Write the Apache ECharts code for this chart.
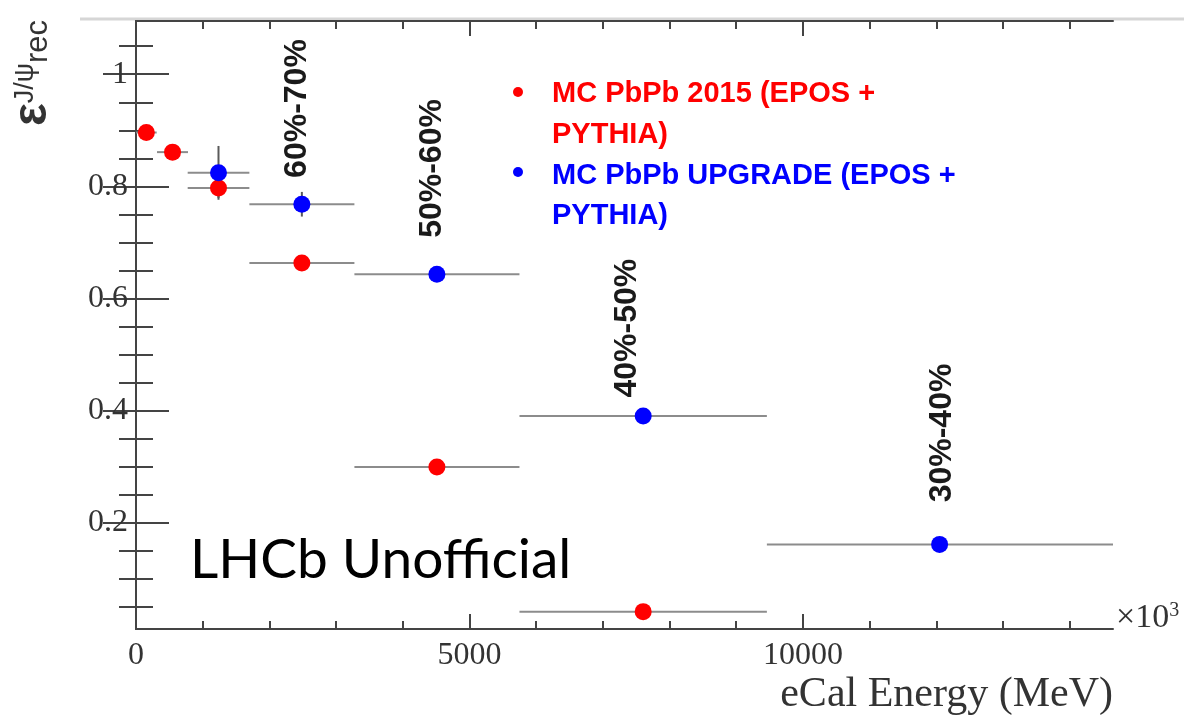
<!DOCTYPE html>
<html>
<head>
<meta charset="utf-8">
<script src="https://cdn.jsdelivr.net/npm/echarts@6/dist/echarts.min.js"></script>
<style>
  html, body { margin: 0; padding: 0; background: #fff; }
  #chart { width: 1184px; height: 715px; }
</style>
</head>
<body>
<div id="chart"></div>
<script>
// MC PbPb 2015 (red)
const redX = [155, 548, 1237, 2487, 4512, 7605];
const redY = [0.896, 0.861, 0.797, 0.663, 0.299, 0.041];
const redXLow = [0, 315, 775, 1700, 3275, 5750];
const redXHigh = [310, 780, 1700, 3275, 5750, 9460];
const redYErr = [0.008, 0.008, 0.018, 0.008, 0.006, 0.004];

// MC PbPb UPGRADE (blue)
const blueX = [1237, 2487, 4512, 7605, 12050];
const blueY = [0.824, 0.768, 0.643, 0.390, 0.161];
const blueXLow = [775, 1700, 3275, 5750, 9460];
const blueXHigh = [1700, 3275, 5750, 9460, 14650];
const blueYErr = [0.048, 0.022, 0.008, 0.006, 0.005];

// centrality annotations
const centLabels = ['60%-70%', '50%-60%', '40%-50%', '30%-40%'];
const centX = [2415, 4440, 7365, 12090];
const centY = [0.815, 0.708, 0.423, 0.236];

// axis ticks
const xMajor = [0, 5000, 10000];
const xMinor = [1000, 2000, 3000, 4000, 6000, 7000, 8000, 9000, 11000, 12000, 13000, 14000];
const yMajor = [0.2, 0.4, 0.6, 0.8, 1.0];
const yMinor = [0.05, 0.1, 0.15, 0.25, 0.3, 0.35, 0.45, 0.5, 0.55, 0.65, 0.7, 0.75, 0.85, 0.9, 0.95, 1.05];

const X_MIN = 0, X_MAX = 14650;
const Y_MIN = 0.01, Y_MAX = 1.095;

const frameColor = '#444444';
const labelColor = '#333333';
const serif = '"Liberation Serif", "DejaVu Serif", serif';
const sans = '"Liberation Sans", Arial, sans-serif';

const chart = echarts.init(document.getElementById('chart'), null, { renderer: 'canvas' });

function xAxisDef(position, ticks, len, showLine, showLabels) {
  return {
    type: 'value', position, min: X_MIN, max: X_MAX,
    axisLine: { show: showLine, lineStyle: { color: frameColor, width: 2 } },
    axisTick: { show: true, inside: true, length: len, customValues: ticks,
      lineStyle: { color: frameColor, width: 2 } },
    axisLabel: showLabels
      ? { show: true, customValues: ticks, margin: 11, color: labelColor,
          fontFamily: serif, fontSize: 32, formatter: (v) => String(v) }
      : { show: false },
    splitLine: { show: false },
  };
}

function yAxisDef(position, ticks, len, showLine, showLabels) {
  return {
    type: 'value', position, min: Y_MIN, max: Y_MAX,
    axisLine: { show: showLine, lineStyle: { color: frameColor, width: 2 } },
    axisTick: { show: true, inside: true, length: len, customValues: ticks,
      lineStyle: { color: frameColor, width: 2 } },
    axisLabel: showLabels
      ? { show: true, customValues: ticks, margin: 8, color: labelColor,
          fontFamily: serif, fontSize: 32,
          formatter: (v) => String(parseFloat(v.toFixed(2))) }
      : { show: false },
    splitLine: { show: false },
  };
}

function errorBars(xs, ys, lo, hi, err) {
  return xs.map((x, i) => [x, ys[i], lo[i], hi[i], err[i]]);
}

function renderErrorBar(params, api) {
  const x = api.value(0), y = api.value(1);
  const l = api.coord([api.value(2), y]);
  const r = api.coord([api.value(3), y]);
  const t = api.coord([x, y + api.value(4)]);
  const b = api.coord([x, y - api.value(4)]);
  return {
    type: 'group',
    children: [
      { type: 'line', shape: { x1: l[0], y1: l[1], x2: r[0], y2: r[1] },
        style: { stroke: '#8c8c8c', lineWidth: 2 } },
      { type: 'line', shape: { x1: t[0], y1: t[1], x2: b[0], y2: b[1] },
        style: { stroke: '#5a5a5a', lineWidth: 2 } },
    ],
  };
}

const option = {
  backgroundColor: '#ffffff',
  animation: false,
  grid: { left: 136, right: 71, top: 21, bottom: 86 },
  xAxis: [
    xAxisDef('bottom', xMajor, 15, true, true),
    xAxisDef('bottom', xMinor, 8, false, false),
    xAxisDef('top', xMajor, 15, true, false),
    xAxisDef('top', xMinor, 8, false, false),
  ],
  yAxis: [
    yAxisDef('left', yMajor, 33, true, true),
    yAxisDef('left', yMinor, 17, false, false),
    yAxisDef('right', yMajor, 33, true, false),
    yAxisDef('right', yMinor, 17, false, false),
  ],
  series: [
    {
      name: 'MC PbPb 2015 err', type: 'custom', renderItem: renderErrorBar,
      data: errorBars(redX, redY, redXLow, redXHigh, redYErr), z: 2,
    },
    {
      name: 'MC PbPb UPGRADE err', type: 'custom', renderItem: renderErrorBar,
      data: errorBars(blueX, blueY, blueXLow, blueXHigh, blueYErr), z: 2,
    },
    {
      name: 'MC PbPb 2015 (EPOS + PYTHIA)', type: 'scatter', symbol: 'circle', symbolSize: 17,
      itemStyle: { color: '#ff0000', opacity: 1 }, z: 3,
      data: redX.map((x, i) => [x, redY[i]]),
    },
    {
      name: 'MC PbPb UPGRADE (EPOS + PYTHIA)', type: 'scatter', symbol: 'circle', symbolSize: 17,
      itemStyle: { color: '#0000ff', opacity: 1 }, z: 3,
      data: blueX.map((x, i) => [x, blueY[i]]),
    },
    {
      name: 'centrality', type: 'custom', z: 4,
      data: centX.map((x, i) => [x, centY[i]]),
      renderItem: (params, api) => {
        const p = api.coord([api.value(0), api.value(1)]);
        return {
          type: 'text', x: p[0], y: p[1], rotation: Math.PI / 2,
          style: { text: centLabels[params.dataIndex], fill: '#1a1a1a',
            font: 'bold 32px ' + sans, align: 'left', verticalAlign: 'middle' },
        };
      },
    },
  ],
  graphic: [
    // slide header rule
    { type: 'line', shape: { x1: 80, y1: 19, x2: 1184, y2: 19 },
      style: { stroke: '#d6d6d6', lineWidth: 3 }, z: -1 },
    // y axis title
    { type: 'text', x: 33, y: 126, rotation: Math.PI / 2,
      style: {
        text: '{e|ε}{sup|J/ψ}{sub|rec}', align: 'left', verticalAlign: 'middle',
        fill: '#333',
        rich: {
          e: { fontFamily: sans, fontWeight: 'bold', fontSize: 48, fill: '#333', lineHeight: 42 },
          sup: { fontFamily: sans, fontSize: 27, fill: '#333', verticalAlign: 'top', lineHeight: 42 },
          sub: { fontFamily: sans, fontSize: 31, fill: '#333', verticalAlign: 'bottom', lineHeight: 42 },
        },
      } },
    // x axis title
    { type: 'text', x: 1113, y: 695,
      style: { text: 'eCal Energy (MeV)', font: '42px ' + serif, fill: '#333',
        align: 'right', verticalAlign: 'middle' } },
    // x10^3 multiplier
    { type: 'text', x: 1116, y: 618,
      style: {
        text: '{a|×10}{b|3}', align: 'left', verticalAlign: 'middle',
        rich: {
          a: { fontFamily: serif, fontSize: 34, fill: '#333', lineHeight: 34 },
          b: { fontFamily: serif, fontSize: 20, fill: '#333', verticalAlign: 'top', lineHeight: 34 },
        },
      } },
    // watermark
    { type: 'text', x: 190, y: 560,
      style: { text: 'LHCb Unofficial', font: '55px Lato, "Noto Sans", sans-serif', fill: '#000',
        align: 'left', verticalAlign: 'middle' } },
    // legend
    { type: 'circle', shape: { cx: 518, cy: 92, r: 5 }, style: { fill: '#ff0000' } },
    { type: 'text', x: 552, y: 94,
      style: { text: 'MC PbPb 2015 (EPOS +', font: 'bold 29px ' + sans, fill: '#ff0000',
        align: 'left', verticalAlign: 'middle' } },
    { type: 'text', x: 552, y: 135,
      style: { text: 'PYTHIA)', font: 'bold 29px ' + sans, fill: '#ff0000',
        align: 'left', verticalAlign: 'middle' } },
    { type: 'circle', shape: { cx: 518, cy: 172, r: 5 }, style: { fill: '#0000ff' } },
    { type: 'text', x: 552, y: 176,
      style: { text: 'MC PbPb UPGRADE (EPOS +', font: 'bold 29px ' + sans, fill: '#0000ff',
        align: 'left', verticalAlign: 'middle' } },
    { type: 'text', x: 552, y: 216,
      style: { text: 'PYTHIA)', font: 'bold 29px ' + sans, fill: '#0000ff',
        align: 'left', verticalAlign: 'middle' } },
  ],
};

chart.setOption(option);
window.addEventListener('resize', () => chart.resize());
</script>
</body>
</html>
